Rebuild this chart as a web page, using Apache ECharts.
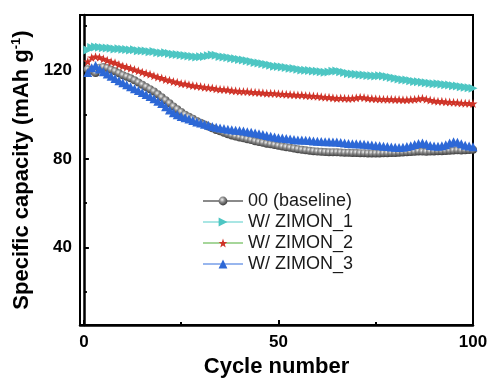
<!DOCTYPE html>
<html>
<head>
<meta charset="utf-8">
<script src="https://cdn.jsdelivr.net/npm/echarts@6/dist/echarts.min.js"></script>
<style>
  html, body { margin: 0; padding: 0; background: #fff; }
  #chart { width: 489px; height: 378px; }
</style>
</head>
<body>
<div id="chart"></div>
<script>
// Cycle index 1..100
const cycles = Array.from({ length: 100 }, (_, i) => i + 1);

const seriesNames = ['00 (baseline)', 'W/ ZIMON_1', 'W/ ZIMON_2', 'W/ ZIMON_3'];

// Specific capacity (mAh g-1) per cycle
const baseline = [
  120.5, 119.8, 118.8, 121.2, 121.5, 121.1, 120.3, 119.6, 118.7, 117.8,
  117.1, 116.4, 115.5, 114.5, 113.5, 112.5, 111.5, 110.5, 109.2, 107.8,
  106.5, 105.1, 103.7, 102.4, 101.2, 100.0, 99.0, 98.1, 97.1, 96.3,
  95.5, 94.6, 93.8, 93.1, 92.5, 91.8, 91.2, 90.6, 90.1, 89.7,
  89.3, 88.9, 88.5, 88.0, 87.6, 87.3, 86.9, 86.6, 86.3, 85.9,
  85.6, 85.3, 85.0, 84.7, 84.4, 84.1, 83.9, 83.7, 83.5, 83.3,
  83.2, 83.1, 83.0, 83.0, 83.0, 82.9, 82.8, 82.8, 82.7, 82.7,
  82.6, 82.6, 82.5, 82.5, 82.5, 82.5, 82.6, 82.6, 82.7, 82.7,
  82.8, 82.9, 83.0, 83.1, 83.2, 83.4, 83.3, 83.2, 83.3, 83.4,
  83.5, 83.5, 83.6, 83.7, 83.8, 83.9, 83.8, 83.9, 84.0, 84.1
];

const zimon1 = [
  129.2, 130.3, 130.6, 130.4, 130.2, 130.1, 130.0, 129.7, 129.8, 129.5,
  129.4, 129.2, 129.3, 128.9, 128.8, 128.7, 128.4, 128.5, 128.1, 127.8,
  127.9, 127.6, 127.3, 127.2, 126.9, 126.7, 126.5, 126.3, 126.0, 126.2,
  126.3, 126.6, 126.9, 126.8, 126.3, 126.0, 125.8, 125.5, 125.2, 124.9,
  124.7, 124.3, 124.0, 123.6, 123.3, 123.0, 122.6, 122.3, 121.9, 121.7,
  121.5, 121.3, 121.0, 120.8, 120.5, 120.2, 120.1, 119.9, 119.7, 119.6,
  119.4, 119.2, 119.3, 119.6, 119.7, 119.4, 119.0, 118.6, 118.4, 118.2,
  118.0, 117.9, 117.7, 117.6, 117.4, 117.6, 117.5, 117.1, 116.8, 116.4,
  116.1, 115.8, 115.6, 115.3, 115.0, 114.9, 114.6, 114.4, 114.2, 114.0,
  113.9, 113.7, 113.5, 113.4, 113.1, 112.9, 112.6, 112.4, 112.2, 111.9
];

const zimon2 = [
  124.0, 125.8, 126.2, 125.9, 125.2, 124.6, 123.9, 123.4, 122.6, 122.0,
  121.5, 120.9, 120.4, 119.8, 119.2, 118.7, 118.2, 117.6, 117.0, 116.5,
  115.9, 115.5, 115.0, 114.6, 114.1, 113.9, 113.5, 113.2, 112.9, 112.7,
  112.4, 112.2, 112.0, 111.7, 111.5, 111.4, 111.2, 110.9, 110.8, 110.6,
  110.5, 110.4, 110.2, 110.1, 110.0, 109.9, 109.7, 109.7, 109.6, 109.4,
  109.3, 109.2, 109.1, 109.0, 108.9, 108.9, 108.6, 108.5, 108.4, 108.3,
  108.1, 107.9, 107.8, 107.6, 107.4, 107.5, 107.4, 107.3, 107.4, 107.6,
  107.9, 107.7, 107.4, 107.3, 107.2, 107.1, 107.0, 106.9, 106.9, 106.8,
  106.8, 106.7, 106.7, 106.8, 106.9, 107.2, 107.4, 107.0, 106.6, 106.3,
  106.1, 106.0, 105.8, 105.7, 105.6, 105.5, 105.3, 105.2, 105.1, 105.0
];

const zimon3 = [
  119.0, 121.2, 122.2, 120.6, 119.4, 118.3, 117.3, 116.3, 115.3, 114.4,
  113.5, 112.6, 111.7, 110.9, 110.0, 109.1, 108.2, 107.2, 106.1, 105.0,
  103.6, 102.1, 100.9, 99.9, 99.2, 98.6, 98.0, 97.3, 96.7, 96.2,
  95.7, 95.2, 94.7, 94.3, 94.0, 93.7, 93.4, 93.2, 93.0, 92.8,
  92.6, 92.3, 92.0, 91.7, 91.4, 91.0, 90.6, 90.2, 89.9, 89.6,
  89.4, 89.2, 89.0, 88.8, 88.6, 88.5, 88.4, 88.3, 88.1, 88.0,
  87.9, 87.8, 87.8, 87.7, 87.6, 87.4, 87.2, 87.0, 86.9, 86.8,
  86.7, 86.6, 86.4, 86.3, 86.1, 85.9, 85.7, 85.6, 85.4, 85.3,
  85.2, 85.3, 85.6, 86.0, 86.5, 87.0, 87.2, 86.7, 86.1, 85.8,
  85.7, 85.9, 86.4, 87.2, 87.8, 87.5, 86.8, 86.2, 85.8, 85.5
];

// Axis ticks
const xLabelTicks = [0, 50, 100];
const xMinorTicks = [25, 75];
const yLabelTicks = [40, 80, 120];
const yMinorTicks = [20, 60, 100, 140];

const FONT = "'Liberation Sans', Arial, Helvetica, sans-serif";
const STAR = 'path://M50,0 L61.8,35.1 L97.6,34.5 L69,56.1 L79.4,90.5 L50,70 L20.6,90.5 L31,56.1 L2.4,34.5 L38.2,35.1 Z';

function pair(values) {
  return cycles.map((c, i) => [c, values[i]]);
}

const chart = echarts.init(document.getElementById('chart'), null, { renderer: 'canvas' });

const xBase = {
  type: 'value', min: -1, max: 100, position: 'bottom',
  splitLine: { show: false }
};
const yBase = {
  type: 'value', min: 5, max: 145, position: 'left',
  splitLine: { show: false }
};

chart.setOption({
  animation: false,
  backgroundColor: '#fff',
  grid: {
    left: 80, right: 16, top: 15, bottom: 53,
    outerBoundsMode: 'none', containLabel: false,
    show: true, borderColor: '#000', borderWidth: 2, backgroundColor: 'transparent'
  },
  legend: {
    orient: 'vertical',
    left: 197, top: 187,
    itemWidth: 40, itemHeight: 11, itemGap: 3,
    textStyle: { fontFamily: FONT, fontSize: 18, color: '#1a1a1a', lineHeight: 18 },
    data: seriesNames
  },
  xAxis: [
    Object.assign({}, xBase, {
      name: 'Cycle number',
      nameLocation: 'middle', nameGap: 31,
      nameTextStyle: { fontFamily: FONT, fontSize: 22, fontWeight: 'bold', color: '#000' },
      axisLine: { show: true, lineStyle: { color: '#000', width: 2.5 } },
      axisTick: { show: true, inside: true, length: 5, customValues: xLabelTicks, lineStyle: { color: '#000', width: 2 } },
      axisLabel: { customValues: xLabelTicks, margin: 9, fontFamily: FONT, fontSize: 17, fontWeight: 'bold', color: '#000' }
    }),
    Object.assign({}, xBase, {
      axisLine: { show: false },
      axisTick: { show: true, inside: true, length: 3, customValues: xMinorTicks, lineStyle: { color: '#000', width: 2 } },
      axisLabel: { show: false }
    })
  ],
  yAxis: [
    Object.assign({}, yBase, {
      name: 'Specific capacity (mAh g{sup|-1})',
      nameLocation: 'middle', nameGap: 44,
      nameTextStyle: {
        fontFamily: FONT, fontSize: 22, fontWeight: 'bold', color: '#000',
        rich: { sup: { fontFamily: FONT, fontSize: 13, fontWeight: 'bold', color: '#000', verticalAlign: 'top', padding: [0, 0, 10, 0] } }
      },
      axisLine: { show: true, lineStyle: { color: '#000', width: 2.5 } },
      axisTick: { show: true, inside: true, length: 5, customValues: yLabelTicks, lineStyle: { color: '#000', width: 2 } },
      axisLabel: { customValues: yLabelTicks, margin: 8, fontFamily: FONT, fontSize: 17, fontWeight: 'bold', color: '#000' }
    }),
    Object.assign({}, yBase, {
      axisLine: { show: false },
      axisTick: { show: true, inside: true, length: 3, customValues: yMinorTicks, lineStyle: { color: '#000', width: 2 } },
      axisLabel: { show: false }
    })
  ],
  series: [
    {
      name: seriesNames[0], type: 'line', data: pair(baseline),
      symbol: 'circle', symbolSize: 8,
      lineStyle: { color: '#8a8a8a', width: 1 },
      itemStyle: {
        color: { type: 'radial', x: 0.4, y: 0.35, r: 0.65,
          colorStops: [{ offset: 0, color: '#f2f2f2' }, { offset: 0.45, color: '#8a8a8a' }, { offset: 1, color: '#3c3c3c' }] },
        borderWidth: 0
      }
    },
    {
      name: seriesNames[1], type: 'line', data: pair(zimon1),
      symbol: 'triangle', symbolRotate: -90, symbolSize: 9,
      lineStyle: { color: '#a9e6e4', width: 1 },
      itemStyle: { color: '#4dc6c3', borderWidth: 0 }
    },
    {
      name: seriesNames[2], type: 'line', data: pair(zimon2),
      symbol: STAR, symbolSize: 9,
      lineStyle: { color: '#a6d69a', width: 1 },
      itemStyle: { color: '#cf3328', borderWidth: 0 }
    },
    {
      name: seriesNames[3], type: 'line', data: pair(zimon3),
      symbol: 'triangle', symbolSize: 9,
      lineStyle: { color: '#98b6ee', width: 1 },
      itemStyle: { color: '#2d68d6', borderWidth: 0 }
    }
  ]
});
</script>
</body>
</html>
